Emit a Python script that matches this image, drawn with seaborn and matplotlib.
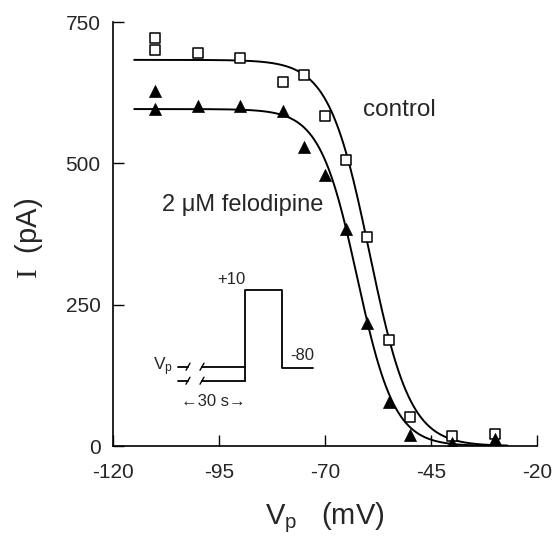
import numpy as np
import pandas as pd
import matplotlib
matplotlib.use('Agg')
import matplotlib.pyplot as plt
import seaborn as sns

# データ
vp_control = [-110, -110, -100, -90, -80, -75, -70, -65, -60, -55, -50, -40, -30]
i_control = [721, 700, 696, 686, 644, 656, 584, 506, 369, 188, 51, 18, 21]
vp_felo = [-110, -110, -100, -90, -80, -75, -70, -65, -60, -55, -50, -40, -30]
i_felo = [628, 596, 601, 601, 593, 529, 479, 383, 218, 78, 19, 6, 12]

# Boltzmann fit parameters: Imax, V1/2, k
fit_control = (683, -59.5, 4.8)
fit_felo = (596, -62.4, 4.4)

x_ticks = [-120, -95, -70, -45, -20]
y_ticks = [0, 250, 500, 750]

sns.set_style('ticks')
plt.rcParams['font.family'] = ['Liberation Sans', 'DejaVu Sans']
plt.rcParams['axes.unicode_minus'] = False
plt.rcParams['mathtext.fontset'] = 'custom'
plt.rcParams['mathtext.rm'] = 'Liberation Serif'
plt.rcParams['mathtext.sf'] = 'Liberation Sans'
plt.rcParams['mathtext.it'] = 'Liberation Sans:italic'


def boltzmann(v, imax, vh, k):
    return imax / (1 + np.exp((v - vh) / k))


v_fit = np.linspace(-115, -27, 300)
df_fit = pd.concat([
    pd.DataFrame({'Vp': v_fit, 'I': boltzmann(v_fit, *fit_control), 'cond': 'control'}),
    pd.DataFrame({'Vp': v_fit, 'I': boltzmann(v_fit, *fit_felo), 'cond': 'felo'}),
])

fig = plt.figure(figsize=(5.53, 5.42), dpi=100)
ax = fig.add_axes([113 / 553, 96 / 542, 424 / 553, 424 / 542])

sns.lineplot(data=df_fit, x='Vp', y='I', units='cond', estimator=None,
             color='black', lw=1.4, ax=ax, zorder=2)
sns.scatterplot(x=vp_control, y=i_control, marker='s', s=45, facecolor='white',
                edgecolor='black', linewidth=1.1, ax=ax, zorder=3)
sns.scatterplot(x=vp_felo, y=i_felo, marker='^', s=75, color='black',
                edgecolor='black', linewidth=0.5, ax=ax, zorder=3)

ax.set_xlim(-120, -20)
ax.set_ylim(0, 750)
ax.set_xticks(x_ticks)
ax.set_yticks(y_ticks)
ax.tick_params(axis='both', direction='in', length=8, width=1, labelsize=15, color='black')
ax.tick_params(axis='x', pad=12)
ax.tick_params(axis='y', pad=9)
for s in ['left', 'bottom']:
    ax.spines[s].set_linewidth(1.2)
    ax.spines[s].set_color('black')
sns.despine(ax=ax)

ax.set_xlabel(r'V$_{\mathsf{p}}$   (mV)', fontsize=21)
ax.set_ylabel(r'$\mathrm{I}$  (pA)', fontsize=21)
ax.xaxis.set_label_coords(0.5, -0.128)
ax.yaxis.set_label_coords(-0.16, 0.49)

ax.text(-52.5, 594, 'control', fontsize=17.5, ha='center', va='center')
ax.text(-89.3, 426, '2 \u03bcM felodipine', fontsize=17, ha='center', va='center')

# 電位プロトコルの模式図
ins = ax.inset_axes([37 / 424, 36 / 424, 180 / 424, 140 / 424])
ins.set_xlim(0, 180)
ins.set_ylim(0, 140)
ins.axis('off')
ins.patch.set_alpha(0)
kw = dict(color='black', lw=1.3)
for yy in (43.3, 29.3):
    ins.plot([28, 38], [yy, yy], **kw)
    ins.plot([36, 40], [yy - 3.5, yy + 3.5], color='black', lw=1.0)
    ins.plot([50, 54], [yy - 3.5, yy + 3.5], color='black', lw=1.0)
    ins.plot([52, 95], [yy, yy], **kw)
ins.plot([95, 95, 131.7, 131.7, 163.3], [29.3, 120, 120, 41.7, 41.7], **kw)
ins.text(81.7, 131, '+10', fontsize=12, ha='center', va='center')
ins.text(152.7, 54, '-80', fontsize=12, ha='center', va='center')
ins.text(13.3, 43, r'V$_{\mathsf{p}}$', fontsize=12.5, ha='center', va='center')
ins.text(63, 8.3, '\u219030 s\u2192', fontsize=12, ha='center', va='center')

fig.savefig('out.png', dpi=100, facecolor='white')
